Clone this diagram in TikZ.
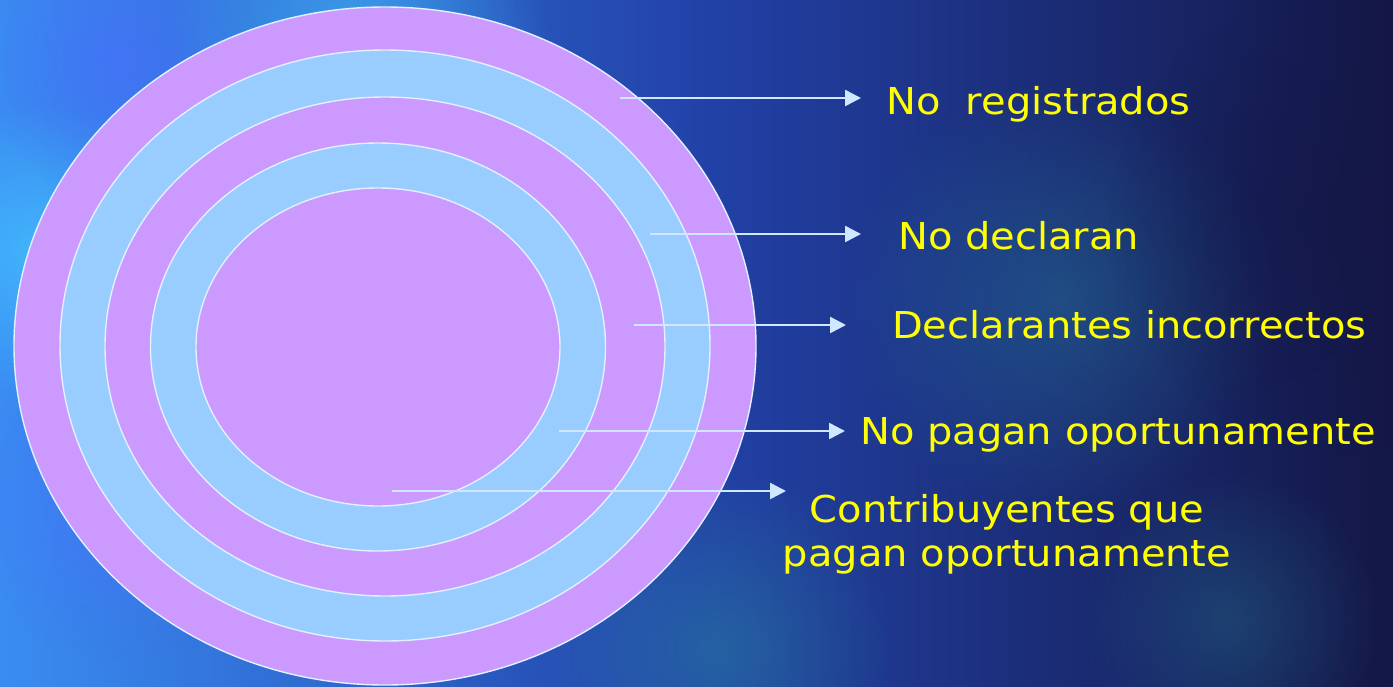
\documentclass[tikz,border=0pt]{standalone}
\usepackage{fontspec}
\usetikzlibrary{arrows.meta,shapes.geometric,fadings}
\newfontfamily\labfont[FakeStretch=1.08]{DejaVu Sans}
\definecolor{bgL}{HTML}{3A8CF2}
\definecolor{bgM}{HTML}{2242A8}
\definecolor{bgR}{HTML}{141746}
\definecolor{ringP}{HTML}{CC99FF}
\definecolor{ringB}{HTML}{99CCFF}
\definecolor{edgeC}{HTML}{E2F0FF}
\definecolor{arrC}{HTML}{CFE7FF}
\definecolor{txtY}{HTML}{FFFF00}
\definecolor{blobA}{HTML}{45C0FF}
\definecolor{blobB}{HTML}{4A6CFF}
\definecolor{blobC}{HTML}{2A8AA0}
\tikzfading[name=softblob, inner color=transparent!0, outer color=transparent!100]
\tikzset{
  ring/.style={ellipse, draw=edgeC, line width=1.4pt, inner sep=0pt, outer sep=0pt},
  arr/.style={draw=arrC, line width=2.6pt, -{Triangle[length=16pt,width=16pt]}},
  lab/.style={text=txtY, inner sep=0pt, anchor=base west, font=\labfont\fontsize{37}{44}\selectfont},
  blob/.style={path fading=softblob}
}
\begin{document}
\begin{tikzpicture}[x=1pt,y=-1pt]
\useasboundingbox (0,0) rectangle (1393,686);
% background
\shade[left color=bgL, right color=bgR, middle color=bgM] (0,0) rectangle (1393,686);
\fill[blobA, opacity=0.8, blob] (40,250) circle (150);
\fill[blobB, opacity=0.6, blob] (120,60) circle (140);
\fill[blobA, opacity=0.6, blob] (360,30) circle (190);
\fill[blobB, opacity=0.5, blob] (120,500) circle (160);
\fill[blobC, opacity=0.45, blob] (720,650) circle (180);
\fill[blobC, opacity=0.35, blob] (1060,300) circle (220);
\fill[bgR, opacity=0.6, blob] (1340,220) circle (230);
\fill[blobC, opacity=0.3, blob] (1230,620) circle (150);
\fill[blobB, opacity=0.35, blob] (560,220) circle (160);
% rings
\node[ring, fill=ringP, minimum width=742pt, minimum height=678pt] (r1) at (385,346) {};
\node[ring, fill=ringB, minimum width=650pt, minimum height=591pt] (r2) at (385,345.5) {};
\node[ring, fill=ringP, minimum width=560pt, minimum height=499pt] (r3) at (385,346.5) {};
\node[ring, fill=ringB, minimum width=455pt, minimum height=408pt] (r4) at (378,347) {};
\node[ring, fill=ringP, minimum width=364pt, minimum height=318pt] (r5) at (378,347) {};
% arrows
\coordinate (s1) at (620,98);  \coordinate (e1) at (861,98);
\coordinate (s2) at (650,234); \coordinate (e2) at (861,234);
\coordinate (s3) at (634,325); \coordinate (e3) at (846,325);
\coordinate (s4) at (559,431); \coordinate (e4) at (845,431);
\coordinate (s5) at (392,491); \coordinate (e5) at (786,491);
\draw[arr] (s1) -- (e1);
\draw[arr] (s2) -- (e2);
\draw[arr] (s3) -- (e3);
\draw[arr] (s4) -- (e4);
\draw[arr] (s5) -- (e5);
% labels
\node[lab] (t1) at (886,114) {No\ \ registrados};
\node[lab] (t2) at (898,249) {No declaran};
\node[lab] (t3) at (892,338) {Declarantes incorrectos};
\node[lab] (t4) at (860,444) {No pagan oportunamente};
\node[lab, anchor=base] (t5) at (1007,522) {Contribuyentes que};
\node[lab, anchor=base] (t6) at (1007,566) {pagan oportunamente};
\end{tikzpicture}
\end{document}
